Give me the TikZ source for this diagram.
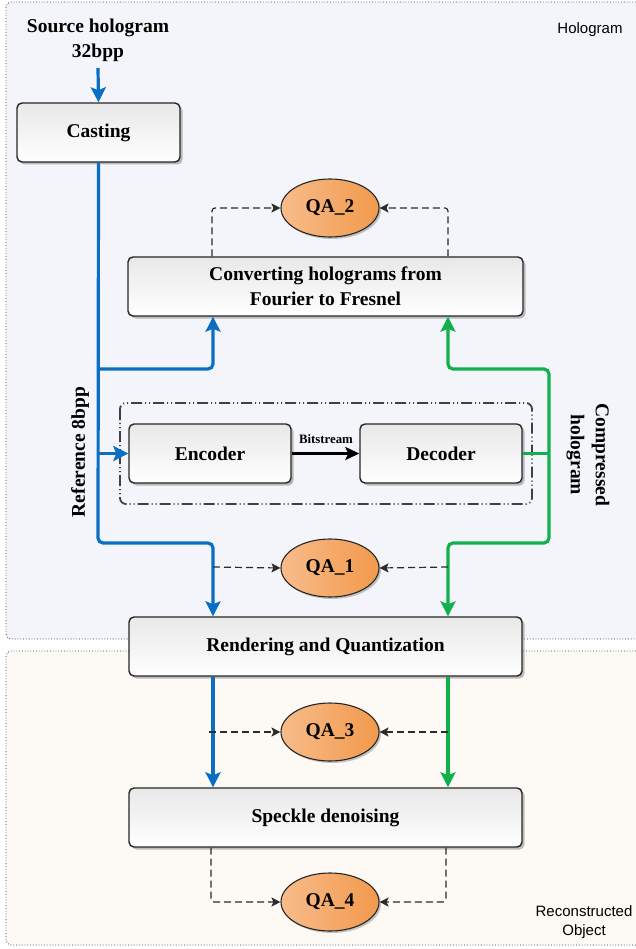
\documentclass[tikz,border=0pt]{standalone}
\usepackage{fontspec}
\setmainfont{Liberation Serif}
\setsansfont{Liberation Sans}
\usetikzlibrary{arrows.meta,shadows,shapes.geometric}
\definecolor{bl}{HTML}{0A6FC2}
\definecolor{gr}{HTML}{10B04C}
\definecolor{topfill}{HTML}{F3F5FA}
\definecolor{botfill}{HTML}{FDF9F5}
\definecolor{qaA}{HTML}{F8BC8A}
\definecolor{qaB}{HTML}{F2994C}
\definecolor{dsh}{HTML}{2B2B2B}
\tikzset{
  bigtxt/.style={font=\bfseries\fontsize{19.5}{25}\selectfont},
  procbox/.style={draw=black!85, line width=1.4pt, rounded corners=5pt,
    top color=black!9, bottom color=white, minimum height=59pt, align=center,
    drop shadow={shadow xshift=2.5pt, shadow yshift=-2.5pt, fill=black!50},
    bigtxt},
  qa/.style={ellipse, draw=black!85, line width=1.1pt, left color=qaA, right color=qaB,
    minimum width=98pt, minimum height=58pt, inner sep=0pt,
    drop shadow={shadow xshift=2pt, shadow yshift=-2pt, fill=black!45}, bigtxt},
  frame/.style={draw=black!80, line width=0.8pt, dotted, rounded corners=5pt},
  bline/.style={draw=bl, line width=3.2pt, rounded corners=5pt},
  gline/.style={draw=gr, line width=3.2pt, rounded corners=5pt},
  barrow/.style={-{Stealth[length=15pt,width=15pt,inset=3pt]}},
  darrow/.style={draw=dsh, line width=1.2pt, dash pattern=on 7pt off 4pt, rounded corners=3pt,
    -{Stealth[length=9pt,width=9pt,inset=2pt]}},
  lbl/.style={font=\sffamily\fontsize{15}{19}\selectfont, align=center}
}
\begin{document}
\begin{tikzpicture}[x=1pt,y=-1pt]
\useasboundingbox (0,0) rectangle (636,949);
\begin{scope}
\clip (0,0) rectangle (636,949);
\draw[frame, fill=topfill] (6,2) rectangle (670,639);
\draw[frame, fill=botfill] (6,651) rectangle (670,945);
\end{scope}
\node[lbl] (hololbl) at (590,30) {Hologram};
\node[lbl] (recolbl) at (584,922) {Reconstructed\\Object};

% nodes
\node[bigtxt, align=center, inner sep=1pt] (src) at (98,40) {Source hologram\\32bpp};
\node[procbox, minimum width=163pt] (cast) at (98.5,132.5) {Casting};
\node[procbox, minimum width=395pt] (conv) at (325.5,286.5) {Converting holograms from\\Fourier to Fresnel};
\draw[line width=1.8pt, draw=black!75, rounded corners=6pt,
  dash pattern=on 11pt off 3pt on 1pt off 3pt on 1pt off 3pt] (120,403) rectangle (532,504);
\node[procbox, minimum width=162pt] (enc) at (210,453.5) {Encoder};
\node[procbox, minimum width=162pt] (dec) at (441,453.5) {Decoder};
\node[procbox, minimum width=393pt] (rend) at (325.5,646.5) {Rendering and Quantization};
\node[procbox, minimum width=393pt] (speck) at (325.5,817.5) {Speckle denoising};
\node[qa] (qa2) at (330,208) {QA\_2};
\node[qa] (qa1) at (330,568) {QA\_1};
\node[qa] (qa3) at (330,732) {QA\_3};
\node[qa] (qa4) at (330,902) {QA\_4};

\node[bigtxt, rotate=90] (ref) at (80,452) {Reference 8bpp};
\node[bigtxt, rotate=-90, align=center] (comp) at (588,455) {Compressed\\hologram};
\node[font=\bfseries\fontsize{12.8}{15}\selectfont] (bits) at (326,439) {Bitstream};

% coordinates
\coordinate (bA) at (98,369);
\coordinate (bE) at (98,453.5);
\coordinate (bB) at (98,543);
\coordinate (gA) at (549,369);
\coordinate (gE) at (549,453.5);
\coordinate (gB) at (549,543);

% blue
\draw[bline, barrow] (98,68) -- (cast.north);
\draw[bline, barrow] (cast.south) -- (bB) -- (213,543) -- (rend.north -| 213,0);
\draw[bline, barrow] (bA) -- (213,369) -- (conv.south -| 213,0);
\draw[bline, barrow] (bE) -- (enc.west);
\draw[bline, barrow] (rend.south -| 213,0) -- (speck.north -| 213,0);

% green
\draw[gline] (dec.east) -- (gE);
\draw[gline, barrow] (gE) -- (gA) -- (448,369) -- (conv.south -| 448,0);
\draw[gline, barrow] (gE) -- (gB) -- (448,543) -- (rend.north -| 448,0);
\draw[gline, barrow] (rend.south -| 448,0) -- (speck.north -| 448,0);

% bitstream
\draw[line width=2.8pt, -{Stealth[length=14pt,width=13pt,inset=3pt]}] (enc.east) -- (dec.west);

% dashed QA
\draw[darrow] (conv.north -| 212,0) |- (qa2.west);
\draw[darrow] (conv.north -| 448,0) |- (qa2.east);
\draw[darrow] (213,567) -- (qa1.west);
\draw[darrow] (448,567) -- (qa1.east);
\draw[darrow] (209,732) -- (qa3.west);
\draw[darrow] (448,732) -- (qa3.east);
\draw[darrow] (speck.south -| 211,0) |- (qa4.west);
\draw[darrow] (speck.south -| 446,0) |- (qa4.east);
\end{tikzpicture}
\end{document}
